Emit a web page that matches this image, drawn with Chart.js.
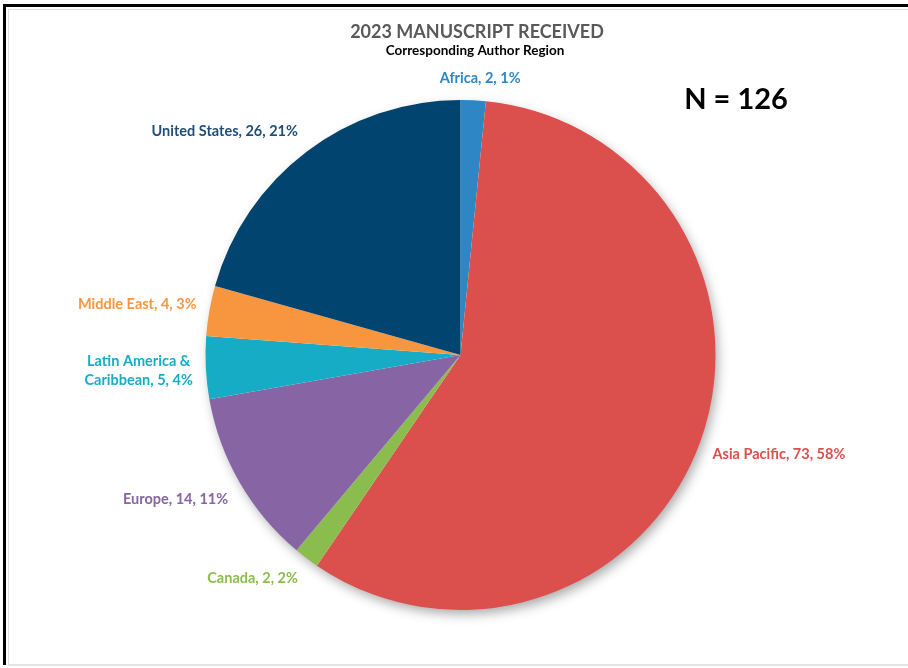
<!DOCTYPE html>
<html>
<head>
<meta charset="utf-8">
<script src="https://cdn.jsdelivr.net/npm/chart.js@4.4.0/dist/chart.umd.min.js"></script>
<style>
  html, body { margin: 0; padding: 0; background: #fff; }
  #wrap { position: relative; width: 908px; height: 668px; overflow: hidden; }
  #frame { position: absolute; left: 3px; top: 4px; width: 920px; height: 658px;
           border-left: 3px solid #000; border-top: 3px solid #000; }
  #inner { position: absolute; left: 2px; top: 2px; width: 920px; height: 654px;
           border-left: 1px solid #ddd; border-top: 1px solid #ddd; border-bottom: 2px solid #e4e4e4; }
  #myChart { position: absolute; left: 0; top: 0; }
</style>
</head>
<body>
<div id="wrap">
  <div id="frame"><div id="inner"></div></div>
  <canvas id="myChart" width="908" height="668"></canvas>
</div>
<script>
// chart data
const categories = ['Africa', 'Asia Pacific', 'Canada', 'Europe', 'Latin America & Caribbean', 'Middle East', 'United States'];
const counts = [2, 73, 2, 14, 5, 4, 26];
const percents = [1, 58, 2, 11, 4, 3, 21];
const sliceColors = ['#2E86C4', '#DB4F4C', '#8BBC4E', '#8764A3', '#17ACC6', '#F89640', '#00446F'];
const labelColors = ['#2E86C4', '#DB4F4C', '#8BBC4E', '#8764A3', '#17ACC6', '#F89640', '#1F4E79'];
const totalText = 'N = 126';

const labelFont = 'bold 14.5px Lato, "Open Sans", sans-serif';

// split long names onto two lines like the original
function labelLines(i) {
    const text = categories[i] + ', ' + counts[i] + ', ' + percents[i] + '%';
    const cut = text.indexOf(' & ');
    if (cut > 0) {
        return [text.slice(0, cut + 2), text.slice(cut + 3)];
    }
    return [text];
}

// soft shadow under the whole pie
const pieShadow = {
    id: 'pieShadow',
    beforeDatasetsDraw(chart) {
        const arc = chart.getDatasetMeta(0).data[0];
        if (!arc) return;
        const p = arc.getProps(['x', 'y', 'outerRadius']);
        const ctx = chart.ctx;
        ctx.save();
        ctx.shadowColor = 'rgba(0,0,0,0.35)';
        ctx.shadowBlur = 12;
        ctx.shadowOffsetX = 3;
        ctx.shadowOffsetY = 5;
        ctx.fillStyle = '#fff';
        ctx.beginPath();
        ctx.arc(p.x, p.y, p.outerRadius - 1, 0, Math.PI * 2);
        ctx.fill();
        ctx.restore();
    }
};

// outside labels + titles
const outsideLabels = {
    id: 'outsideLabels',
    afterDraw(chart) {
        const ctx = chart.ctx;
        const meta = chart.getDatasetMeta(0);
        ctx.save();
        ctx.font = labelFont;
        ctx.textBaseline = 'middle';
        ctx.textAlign = 'center';
        const lineH = 19;
        meta.data.forEach(function (arc, i) {
            const p = arc.getProps(['x', 'y', 'startAngle', 'endAngle', 'outerRadius']);
            const a = (p.startAngle + p.endAngle) / 2;
            const ca = Math.cos(a), sa = Math.sin(a);
            const px = p.x + ca * (p.outerRadius + 11);
            const py = p.y + sa * (p.outerRadius + 11);
            const lines = labelLines(i);
            let w = 0;
            lines.forEach(function (l) { w = Math.max(w, ctx.measureText(l).width); });
            const h = lines.length * lineH;
            const kx = Math.max(-1, Math.min(1, ca * 3));
            const ky = Math.max(-1, Math.min(1, sa * 2));
            const cx = px + kx * (w / 2 + 2);
            const cy = py + ky * (h / 2 + 2);
            ctx.fillStyle = labelColors[i];
            lines.forEach(function (l, j) {
                ctx.fillText(l, cx, cy - h / 2 + lineH / 2 + j * lineH);
            });
        });

        ctx.fillStyle = '#595959';
        ctx.font = 'bold 18px Lato, "Open Sans", sans-serif';
        ctx.fillText('2023 MANUSCRIPT RECEIVED', 477, 32);
        ctx.fillStyle = '#000';
        ctx.font = 'bold 13.5px Lato, "Open Sans", sans-serif';
        ctx.fillText('Corresponding Author Region', 475, 51);
        ctx.font = 'bold 29px Lato, "Open Sans", sans-serif';
        ctx.fillText(totalText, 736, 100);
        ctx.restore();
    }
};

const ctx = document.getElementById('myChart');
const myChart = new Chart(ctx.getContext('2d'), {
    type: 'pie',
    data: {
        labels: categories,
        datasets: [{
            data: counts,
            backgroundColor: sliceColors,
            borderWidth: 0
        }]
    },
    options: {
        responsive: false,
        animation: false,
        layout: {
            padding: { top: 100, bottom: 58, left: 205, right: 192 }
        },
        plugins: {
            legend: { display: false },
            tooltip: { enabled: false },
            title: { display: false }
        }
    },
    plugins: [pieShadow, outsideLabels]
});
</script>
</body>
</html>
